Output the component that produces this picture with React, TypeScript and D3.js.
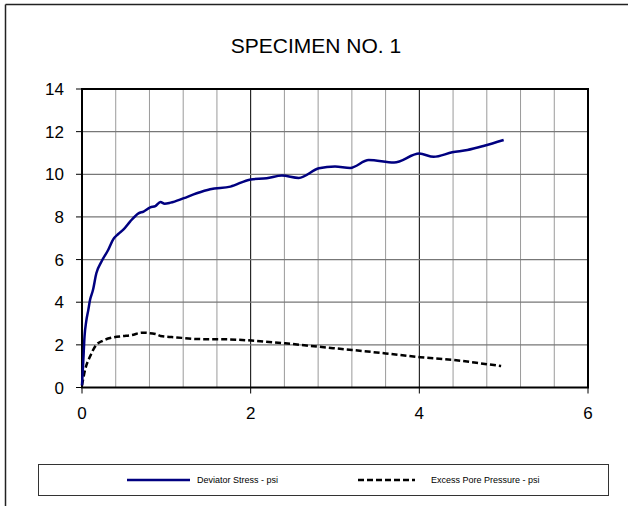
import React from "react";
import * as d3 from "d3";

const titleText = "SPECIMEN NO. 1";
const seriesNames = ["Deviator Stress - psi", "Excess Pore Pressure - psi"];

const devStrain = [0, 0.016, 0.03, 0.05, 0.075, 0.095, 0.13, 0.17, 0.23, 0.31, 0.37, 0.43, 0.49, 0.57, 0.67, 0.73, 0.81, 0.87, 0.93, 0.98, 1.05, 1.2, 1.36, 1.52, 1.76, 2.0, 2.19, 2.37, 2.57, 2.81, 3.0, 3.18, 3.4, 3.7, 4.0, 4.17, 4.39, 4.57, 4.77, 5.0];
const devStress = [0.1, 1.3, 2.4, 3.1, 3.64, 4.1, 4.57, 5.36, 5.9, 6.45, 6.95, 7.2, 7.4, 7.78, 8.17, 8.25, 8.45, 8.51, 8.7, 8.62, 8.67, 8.87, 9.11, 9.3, 9.42, 9.76, 9.81, 9.94, 9.83, 10.28, 10.36, 10.3, 10.67, 10.55, 10.97, 10.82, 11.03, 11.14, 11.34, 11.61];

const poreStrain = [0, 0.036, 0.095, 0.17, 0.25, 0.37, 0.49, 0.59, 0.71, 0.87, 0.93, 1.12, 1.4, 1.72, 2.01, 2.41, 2.81, 3.2, 3.6, 4.01, 4.41, 4.81, 4.97];
const porePressure = [0.1, 0.82, 1.45, 2.0, 2.2, 2.35, 2.41, 2.46, 2.57, 2.51, 2.42, 2.35, 2.27, 2.26, 2.2, 2.07, 1.91, 1.76, 1.6, 1.42, 1.29, 1.09, 1.01];

const yTicks = [0, 2, 4, 6, 8, 10, 12, 14];
const xTicks = [0, 2, 4, 6];
const xMinor = [0.4, 0.8, 1.2, 1.6, 2.4, 2.8, 3.2, 3.6, 4.4, 4.8, 5.2, 5.6];
const xMajorInner = [2, 4];

export default function App() {
  const left = 82, right = 588, top = 89, bottom = 387.5;
  const x = d3.scaleLinear().domain([0, 6]).range([left, right]);
  const y = d3.scaleLinear().domain([0, 14]).range([bottom, top]);
  const line = d3
    .line<[number, number]>()
    .x((d) => x(d[0]))
    .y((d) => y(d[1]))
    .curve(d3.curveMonotoneX);
  const devData = devStrain.map((s, i) => [s, devStress[i]] as [number, number]);
  const poreData = poreStrain.map((s, i) => [s, porePressure[i]] as [number, number]);
  const font = "'Liberation Sans', Arial, sans-serif";

  return (
    <svg
      width={628}
      height={506}
      style={{ position: "absolute", left: 0, top: 0, background: "#fff" }}
      fontFamily={font}
    >
      <rect x={0} y={0} width={628} height={506} fill="#fff" />
      {/* outer frame */}
      <line x1={5.5} y1={4.5} x2={628} y2={4.5} stroke="#222" strokeWidth={1.5} />
      <line x1={5.5} y1={4.5} x2={5.5} y2={506} stroke="#222" strokeWidth={1.5} />

      <text x={316} y={53} textAnchor="middle" fontSize={21} fill="#000">
        {titleText}
      </text>

      {/* gridlines */}
      {xMinor.map((v) => (
        <line key={"vx" + v} x1={x(v)} x2={x(v)} y1={top} y2={bottom} stroke="#9a9a9a" strokeWidth={1} />
      ))}
      {xMajorInner.map((v) => (
        <line key={"mx" + v} x1={x(v)} x2={x(v)} y1={top} y2={bottom} stroke="#000" strokeWidth={1} />
      ))}
      {yTicks.slice(1, -1).map((v) => (
        <line key={"hy" + v} x1={left} x2={right} y1={y(v)} y2={y(v)} stroke="#777" strokeWidth={1.2} />
      ))}

      {/* plot border */}
      <rect x={left} y={top} width={right - left} height={bottom - top} fill="none" stroke="#000" strokeWidth={2} />

      {/* y ticks */}
      {yTicks.map((v) => (
        <g key={"yt" + v}>
          <line x1={left - 6} x2={left} y1={y(v)} y2={y(v)} stroke="#000" strokeWidth={1} />
          <text x={64} y={y(v) + 6} textAnchor="end" fontSize={17} fill="#000">
            {v}
          </text>
        </g>
      ))}
      {/* x ticks */}
      {xTicks.map((v) => (
        <g key={"xt" + v}>
          <line x1={x(v)} x2={x(v)} y1={bottom} y2={bottom + 6} stroke="#000" strokeWidth={1} />
          <text x={x(v)} y={419} textAnchor="middle" fontSize={17} fill="#000">
            {v}
          </text>
        </g>
      ))}

      {/* series */}
      <path d={line(poreData) || ""} fill="none" stroke="#000" strokeWidth={2.5} strokeDasharray="6,3" />
      <path d={line(devData) || ""} fill="none" stroke="#000080" strokeWidth={2.5} />

      {/* legend */}
      <rect x={38.5} y={464.5} width={570} height={31} fill="#fff" stroke="#333" strokeWidth={1} />
      <line x1={127} x2={190} y1={480} y2={480} stroke="#000080" strokeWidth={2.5} />
      <text x={197} y={483} fontSize={9} fill="#000">
        {seriesNames[0]}
      </text>
      <line x1={358} x2={415} y1={480} y2={480} stroke="#000" strokeWidth={2.5} strokeDasharray="6,3" />
      <text x={431} y={483} fontSize={9} fill="#000">
        {seriesNames[1]}
      </text>
    </svg>
  );
}
